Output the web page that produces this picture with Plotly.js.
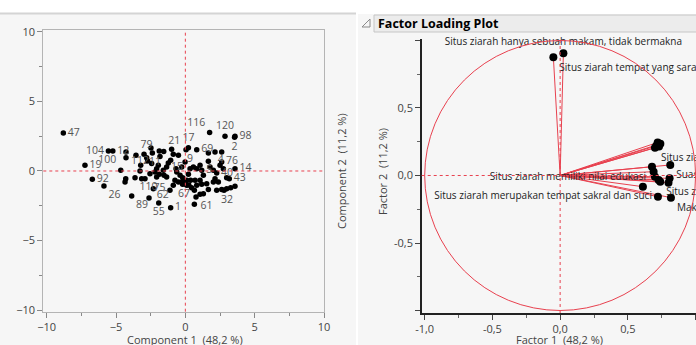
<!DOCTYPE html>
<html>
<head>
<meta charset="utf-8">
<script src="https://cdn.plot.ly/plotly-3.0.1.min.js"></script>
<style>
  html, body { margin: 0; padding: 0; overflow: hidden; background: #ffffff; }
  #chart { width: 696px; height: 345px; }
</style>
</head>
<body>
<div id="chart"></div>
<script>
// ---- Score plot: principal component scores per respondent ----
const scoreX = [
  -8.80, -5.55, -5.23, -3.56, -1.56, 0.22, 0.82, 1.75, 2.86, 3.58, 3.55, 2.62, 3.58,
  -7.24, -4.66, -3.27, -2.19, -1.35, 0.34, 1.18, 2.02, 2.26, 3.17, -6.71, -5.87, -3.63,
  -2.62, -0.87, -3.87, -1.92, -1.06, 0.65, 0.77, 2.26,
  -4.28, -4.28, -2.98, -2.79, -2.72, -2.48, -2.38, -1.88, -1.83, -0.99, -0.87, -1.06,
  -0.50, 0.05, 1.66, 2.14, 1.66, -3.22, -2.43, -2.07, -1.59, -0.67, -0.02, 0.58, 0.82,
  1.06, 1.30, 2.50, 2.74, 2.62, 2.98, 2.14, 2.38, 2.62, 2.98, 3.27, 3.58, 2.79, 1.66,
  1.06, 0.65, 1.30, 1.54, 1.06, 1.18, 0.82, 0.38, 0.22, 0.10, -0.10, -0.26, -0.50,
  -0.75, -1.11, -1.35, -1.54, -1.88, -2.31, -2.91, -3.15, -4.30, -4.35, -0.38, -0.62,
  -0.19, -1.95, -1.23, 0.70, 2.02, 0.10, -2.07, -2.55, 1.78, -0.26, -0.20, 0.00, 0.25, 0.45
];
const scoreY = [
  2.73, 1.44, 1.44, 1.13, 1.41, 1.68, 1.53, 2.76, 2.49, 2.49, 2.42, 1.37, 0.17,
  0.41, 0.05, 0.00, -0.07, 0.29, 0.17, 0.05, 0.05, -0.14, -0.55, -0.60, -1.08, -0.48,
  -1.94, -1.03, -1.80, -2.30, -2.64, -2.40, -1.87, -1.39,
  1.37, 0.96, 1.20, 0.96, 0.72, 1.65, 1.29, 1.44, 1.05, 1.56, 1.20, 0.77,
  1.13, 1.53, 1.29, 1.37, 0.70, 0.41, 0.53, 0.17, 0.05, 0.17, 0.65, 0.29, 0.17,
  0.41, -0.31, 0.41, 0.17, 0.65, -0.48, -0.55, -0.79, -1.34, -1.27, -1.20, -1.10, -1.39, -1.34,
  -1.68, -1.39, -1.63, -0.91, -0.67, -0.96, -1.03, -0.67, -0.24, -1.03, -0.91, -0.79, -0.79,
  -0.67, -1.39, -0.43, -0.31, -0.24, -1.27, -0.55, -0.55, -0.55, -0.79, -0.31, -0.07,
  -0.48, 0.41, 0.58, -0.67, -0.79, -0.67, -0.43, -0.19, 0.29, 0.29, -0.95, -0.85, -1.00, -1.20
];
// Observation numbers shown next to selected points ('' = unlabeled)
const scoreLabel = [
  '47', '104', '12', '79', '21', '17', '69', '116', '120', '98', '2', '76', '14',
  '19', '100', '112', '11', '15', '9', '5', '4', '40', '43', '92', '26', '110',
  '75', '62', '89', '55', '1', '67', '61', '32'
];
const scoreLabelPos = [
  'middle right', 'middle left', 'middle right', 'top right', 'top right', 'top center',
  'middle right', 'top left', 'top center', 'middle right', 'bottom center', 'bottom right',
  'middle right', 'middle right', 'top left', 'top center', 'top center', 'middle right',
  'top center', 'middle right', 'top right', 'middle right', 'middle right', 'middle right',
  'bottom right', 'bottom right', 'top right', 'bottom left', 'bottom right', 'bottom center',
  'middle right', 'top left', 'bottom right', 'bottom right'
];

// ---- Factor loadings of the questionnaire items ----
const loadX = [-0.050, 0.024, 0.700, 0.720, 0.740, 0.710, 0.730, 0.813, 0.678, 0.690,
               0.700, 0.727, 0.739, 0.808, 0.800, 0.611, 0.722, 0.818];
const loadY = [0.876, 0.905, 0.205, 0.245, 0.235, 0.220, 0.215, 0.078, 0.065, 0.028,
               -0.009, -0.033, -0.046, -0.021, -0.053, -0.083, -0.157, -0.164];
const loadLabel = [
  'Situs ziarah tempat yang sarat makna',
  'Situs ziarah hanya sebuah makam, tidak bermakna',
  'Situs ziarah memiliki nilai sejarah', '', '', '', '',
  'Suasana situs ziarah tenang',
  'Situs ziarah memiliki nilai edukasi', '', '', '',
  'Situs ziarah mudah dijangkau', '', '', '',
  'Situs ziarah merupakan tempat sakral dan suci',
  'Makam tokoh penyebar agama'
];
const loadLabelPos = [
  'bottom right', 'top center', 'bottom right', 'middle right', 'middle right', 'middle right',
  'middle right', 'bottom right', 'bottom left', 'middle right', 'middle right', 'middle right',
  'bottom right', 'middle right', 'middle right', 'middle right', 'middle left', 'bottom right'
];

const xTitle1 = 'Component 1  (48,2 %)';
const yTitle1 = 'Component 2  (11,2 %)';
const xTitle2 = 'Factor 1  (48,2 %)';
const yTitle2 = 'Factor 2  (11,2 %)';
const panelTitle = 'Factor Loading Plot';
const loadTicks = [-1, -0.5, 0, 0.5, 1];
const loadXTickText = ['-1,0', '-0,5', '0,0', '0,5', ''];
const loadYTickText = ['', '-0,5', '0,0', '0,5', ''];

const W = 696, H = 345;
const px = v => v / W;
const py = v => 1 - v / H;

const FONT = 'Open Sans, Noto Sans, sans-serif';
const RED = '#e8414f';

// segments from the origin to each loading
const rayX = [], rayY = [];
loadX.forEach((x, i) => { rayX.push(0, x, null); rayY.push(0, loadY[i], null); });

const traces = [
  {
    type: 'scatter', mode: 'markers+text', xaxis: 'x', yaxis: 'y',
    x: scoreX, y: scoreY,
    text: scoreX.map((_, i) => scoreLabel[i] || ''),
    textposition: scoreX.map((_, i) => scoreLabelPos[i] || 'middle right'),
    textfont: { family: FONT, size: 10.5, color: '#555555' },
    marker: { color: '#000000', size: 5.5 },
    cliponaxis: false, hoverinfo: 'skip'
  },
  {
    type: 'scatter', mode: 'lines', xaxis: 'x2', yaxis: 'y2',
    x: rayX, y: rayY,
    line: { color: RED, width: 1 }, hoverinfo: 'skip'
  },
  {
    type: 'scatter', mode: 'markers+text', xaxis: 'x2', yaxis: 'y2',
    x: loadX, y: loadY,
    text: loadLabel, textposition: loadLabelPos,
    textfont: { family: FONT, size: 10, color: '#222222' },
    marker: { color: '#000000', size: 8 },
    cliponaxis: false, hoverinfo: 'skip'
  }
];

const axisFont = { family: FONT, size: 11, color: '#444444' };

const layout = {
  width: W, height: H,
  margin: { l: 0, r: 0, t: 0, b: 0 },
  paper_bgcolor: '#ffffff', plot_bgcolor: '#ffffff',
  showlegend: false,
  separators: ',.',
  font: { family: FONT },
  xaxis: {
    domain: [px(43.3), px(324)], range: [-10.245, 10], anchor: 'y',
    tickvals: [-10, -5, 0, 5, 10], ticks: 'outside', ticklen: 5, tickcolor: '#888888',
    minor: { dtick: 2.5, tick0: 0, ticks: 'outside', ticklen: 3, tickcolor: '#888888' },
    showgrid: false, zeroline: false, showline: true, mirror: true,
    linecolor: '#b4b4b4', linewidth: 1, tickfont: axisFont
  },
  yaxis: {
    domain: [py(311.7), py(30)], range: [-10.12, 10.14], anchor: 'x',
    tickvals: [-10, -5, 0, 5, 10], ticks: 'outside', ticklen: 5, tickcolor: '#888888',
    minor: { dtick: 2.5, tick0: 0, ticks: 'outside', ticklen: 3, tickcolor: '#888888' },
    showgrid: false, zeroline: false, showline: true, mirror: true,
    linecolor: '#b4b4b4', linewidth: 1, tickfont: axisFont
  },
  xaxis2: {
    domain: [px(421.7), 1], range: [-1.022, 1.003], anchor: 'y2',
    tickmode: 'array', tickvals: loadTicks, ticktext: loadXTickText,
    ticks: 'outside', ticklen: 5, tickcolor: '#444444',
    minor: { dtick: 0.25, tick0: 0, ticks: 'outside', ticklen: 3, tickcolor: '#666666' },
    showgrid: false, zeroline: false, showline: true, linecolor: '#222222', linewidth: 1.5,
    tickfont: axisFont
  },
  yaxis2: {
    domain: [py(313), py(39)], range: [-1.0185, 1.011], anchor: 'x2',
    tickmode: 'array', tickvals: loadTicks, ticktext: loadYTickText,
    ticks: 'outside', ticklen: 5, tickcolor: '#444444',
    minor: { dtick: 0.25, tick0: 0, ticks: 'outside', ticklen: 3, tickcolor: '#666666' },
    showgrid: false, zeroline: false, showline: true, linecolor: '#222222', linewidth: 1.5,
    tickfont: axisFont
  },
  shapes: [
    // window backgrounds
    { type: 'rect', xref: 'paper', yref: 'paper', x0: 0, x1: px(356), y0: 0, y1: py(14),
      fillcolor: '#f6f6f6', line: { width: 0 }, layer: 'below' },
    { type: 'line', xref: 'paper', yref: 'paper', x0: 0, x1: px(356), y0: py(13.5), y1: py(13.5),
      line: { color: '#d4d4d4', width: 2 }, layer: 'below' },
    { type: 'rect', xref: 'paper', yref: 'paper', x0: px(358), x1: 1, y0: 0, y1: py(14),
      fillcolor: '#f6f6f6', line: { width: 0 }, layer: 'below' },
    // outline header strip of the loading report
    { type: 'rect', xref: 'paper', yref: 'paper', x0: px(374), x1: px(700), y0: py(32), y1: py(15),
      fillcolor: '#ececec', line: { color: '#c6c6c6', width: 1 }, layer: 'below' },
    // disclosure triangle
    { type: 'path', xref: 'paper', yref: 'paper',
      path: `M ${px(370)} ${py(19)} L ${px(370)} ${py(27)} L ${px(362)} ${py(27)} Z`,
      line: { color: '#8a8a8a', width: 1 }, fillcolor: 'rgba(0,0,0,0)' },
    // reference lines through the origin
    { type: 'line', xref: 'x', yref: 'y domain', x0: 0, x1: 0, y0: 0, y1: 1,
      line: { color: RED, width: 1, dash: 'dot' } },
    { type: 'line', xref: 'x domain', yref: 'y', x0: 0, x1: 1, y0: 0, y1: 0,
      line: { color: RED, width: 1, dash: 'dot' } },
    { type: 'line', xref: 'x2', yref: 'y2 domain', x0: 0, x1: 0, y0: 0, y1: 1,
      line: { color: RED, width: 1, dash: 'dot' } },
    { type: 'line', xref: 'x2 domain', yref: 'y2', x0: 0, x1: 1, y0: 0, y1: 0,
      line: { color: RED, width: 1, dash: 'dot' } },
    // unit circle
    { type: 'circle', xref: 'x2', yref: 'y2', x0: -1, x1: 1, y0: -1, y1: 1,
      line: { color: RED, width: 1 } }
  ],
  annotations: [
    { text: xTitle1, xref: 'paper', yref: 'paper', x: px(185), y: py(339),
      showarrow: false, font: axisFont, xanchor: 'center', yanchor: 'middle' },
    { text: yTitle1, xref: 'paper', yref: 'paper', x: px(341), y: py(171),
      showarrow: false, font: axisFont, textangle: -90, xanchor: 'center', yanchor: 'middle' },
    { text: xTitle2, xref: 'paper', yref: 'paper', x: px(559), y: py(339),
      showarrow: false, font: axisFont, xanchor: 'center', yanchor: 'middle' },
    { text: yTitle2, xref: 'paper', yref: 'paper', x: px(382), y: py(172),
      showarrow: false, font: axisFont, textangle: -90, xanchor: 'center', yanchor: 'middle' },
    { text: '<b>' + panelTitle + '</b>', xref: 'paper', yref: 'paper', x: px(376), y: py(23.5),
      showarrow: false, font: { family: FONT, size: 12.5, color: '#000000' },
      xanchor: 'left', yanchor: 'middle' }
  ]
};

Plotly.newPlot('chart', traces, layout, { staticPlot: true, displayModeBar: false });
</script>
</body>
</html>
